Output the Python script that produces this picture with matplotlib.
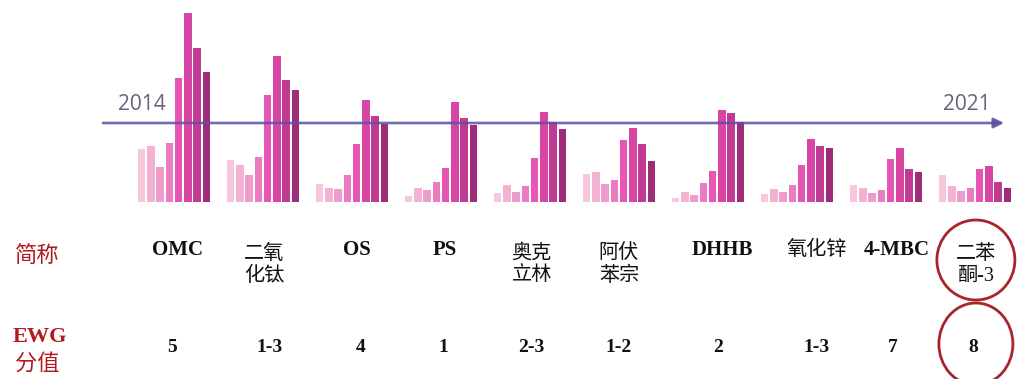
import matplotlib
matplotlib.use("Agg")
import matplotlib.pyplot as plt
from matplotlib.patches import Ellipse
from matplotlib.transforms import blended_transform_factory
import numpy as np

# Sunscreen ingredients, yearly index 2014-2021
names = ["OMC", "二氧\n化钛", "OS", "PS", "奥克\n立林", "阿伏\n苯宗",
         "DHHB", "氧化锌", "4-MBC", "二苯\n酮-3"]
ewg = ["5", "1-3", "4", "1", "2-3", "1-2", "2", "1-3", "7", "8"]
years = [2014, 2015, 2016, 2017, 2018, 2019, 2020, 2021]

v2014 = [53, 42, 18, 6, 9, 28, 4, 8, 17, 27]
v2015 = [56, 37, 14, 14, 17, 30, 10, 13, 14, 16]
v2016 = [35, 27, 13, 12, 10, 18, 7, 10, 9, 11]
v2017 = [59, 45, 27, 20, 16, 22, 19, 17, 12, 14]
v2018 = [124, 107, 58, 34, 44, 62, 31, 37, 43, 33]
v2019 = [189, 146, 102, 100, 90, 74, 92, 63, 54, 36]
v2020 = [154, 122, 86, 84, 80, 58, 89, 56, 33, 20]
v2021 = [130, 112, 78, 77, 73, 41, 80, 54, 30, 14]
series = [v2014, v2015, v2016, v2017, v2018, v2019, v2020, v2021]

year_colors = ["#f6c6dc", "#f3b2d2", "#ee9ccb", "#ec7cc1",
               "#e756b5", "#d845a5", "#c13a93", "#9f2c79"]

W, H, DPI = 1027, 379, 100
fig = plt.figure(figsize=(W / DPI, H / DPI), dpi=DPI)

# Bar area: upper part of the figure, baseline at y=202 px from top
base_px = 202
ax = fig.add_axes([0, (H - base_px) / H, 1, base_px / H])
ax.set_axis_off()
px_per_group = 89.0
first_center = 174.0
ax.set_xlim(-first_center / px_per_group, (W - first_center) / px_per_group)
ax.set_ylim(0, base_px)

x = np.arange(len(names))
pitch = 9.25 / px_per_group
bw = 7.6 / px_per_group
for j, (vals, col) in enumerate(zip(series, year_colors)):
    ax.bar(x + (j - 3.5) * pitch, vals, width=bw, color=col, zorder=2)

# Timeline arrow
line_y = (base_px - 123) / base_px
ax.annotate("", xy=(1004 / W, line_y), xytext=(103 / W, line_y),
            xycoords="axes fraction",
            arrowprops=dict(arrowstyle="-|>,head_length=0.6,head_width=0.3",
                            color="#5b529e", lw=1.9, alpha=0.85,
                            shrinkA=0, shrinkB=0),
            zorder=5)
year_color = "#65617f"
ax.text(142 / W, (base_px - 104) / base_px, str(years[0]), transform=ax.transAxes,
        ha="center", va="center", fontsize=15, color=year_color,
        family="Open Sans")
ax.text(967 / W, (base_px - 104) / base_px, str(years[-1]), transform=ax.transAxes,
        ha="center", va="center", fontsize=15, color=year_color,
        family="Open Sans")

# Label rows below the bars
fams = ["Liberation Serif", "Noto Sans CJK SC"]
red = "#b21a20"
name_nudge = [0.04, 0.01, 0.06, 0.04, 0.02, 0.0, 0.16, 0.22, 0.12, 0.01]
ewg_nudge = [-0.02, 0.07, 0.10, 0.03, 0.01, 0.0, 0.11, 0.22, 0.08, -0.02]
btr = blended_transform_factory(ax.transData, fig.transFigure)

fig.text(37 / W, 1 - 255 / H, "简称", ha="center", va="center",
         fontsize=16, color=red, family=["Noto Sans CJK SC"])
fig.text(40 / W, 1 - 337 / H, "EWG", ha="center", va="center",
         fontsize=16, color=red, family=fams, fontweight="bold")
fig.text(37 / W, 1 - 363 / H, "分值", ha="center", va="center",
         fontsize=16, color=red, family=["Noto Sans CJK SC"])

for i, (nm, sc) in enumerate(zip(names, ewg)):
    latin = all(ord(c) < 128 for c in nm.replace("\n", ""))
    if "\n" in nm:
        ypos, va = 1 - 265 / H, "center"
    else:
        ypos, va = 1 - 250 / H, "center"
    fig.text(i + name_nudge[i], ypos, nm, transform=btr, ha="center", va=va,
             fontsize=15 if latin else 14.5, family=fams,
             fontweight="bold" if latin else "normal",
             color="#111111", linespacing=1.2)
    fig.text(i + ewg_nudge[i], 1 - 347 / H, sc, transform=btr, ha="center",
             va="center", fontsize=14, family=fams, fontweight="bold",
             color="#111111")

# Highlight the last ingredient
for cy, ew, eh in [(260, 78, 80), (344, 74, 82)]:
    e = Ellipse((len(names) - 1 + 0.01, 1 - cy / H), ew / px_per_group, eh / H,
                transform=btr, fill=False, edgecolor="#a8252b", lw=2.0)
    fig.add_artist(e)

fig.savefig("out.png", dpi=DPI)
